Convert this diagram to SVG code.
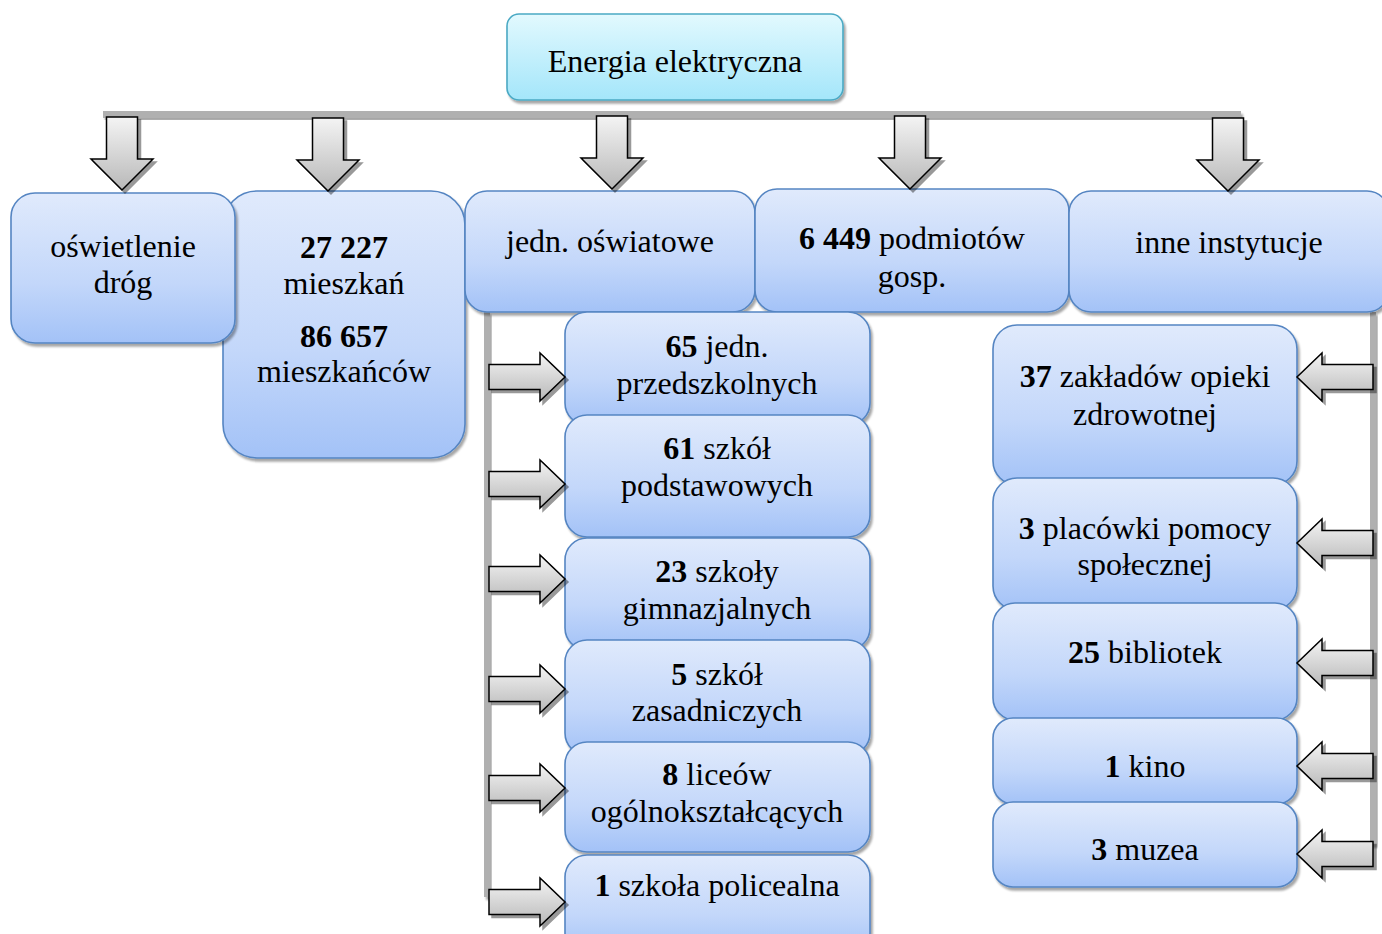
<svg xmlns="http://www.w3.org/2000/svg" width="1382" height="934" viewBox="0 0 1382 934">
<defs>
  <linearGradient id="gBlue" x1="0" y1="0" x2="0" y2="1">
    <stop offset="0" stop-color="#e0eafc"/>
    <stop offset="0.6" stop-color="#c3d7fa"/>
    <stop offset="1" stop-color="#a3c2f7"/>
  </linearGradient>
  <linearGradient id="gCyan" x1="0" y1="0" x2="0" y2="1">
    <stop offset="0" stop-color="#e2f9fe"/>
    <stop offset="1" stop-color="#a4e6fa"/>
  </linearGradient>
  <linearGradient id="gArrow" x1="0" y1="0" x2="0" y2="1">
    <stop offset="0" stop-color="#f4f4f4"/>
    <stop offset="1" stop-color="#b8b8b8"/>
  </linearGradient>
  <filter id="sh" x="-10%" y="-10%" width="130%" height="130%">
    <feDropShadow dx="2" dy="3" stdDeviation="1" flood-color="#000" flood-opacity="0.35"/>
  </filter>
  <filter id="shA" x="-20%" y="-20%" width="150%" height="150%">
    <feDropShadow dx="3" dy="3" stdDeviation="0.6" flood-color="#000" flood-opacity="0.4"/>
  </filter>
  <path id="aDown" d="M-15.5,0 h31 v42 h15.5 l-31,31 l-31,-31 h15.5 z"/>
  <path id="aRight" d="M0,-12.5 h51 v-11.5 l25,24 l-25,24 v-11.5 h-51 z"/>
  <path id="aLeft" d="M0,-12.5 h-51 v-11.5 l-25,24 l25,24 v-11.5 h51 z"/>
  <style>
    .box { fill: url(#gBlue); stroke: #5585c2; stroke-width: 1.6; filter: url(#sh); }
    .top { fill: url(#gCyan); stroke: #4aa9c4; stroke-width: 1.6; filter: url(#sh); }
    .bar { fill: #b0b0b0; filter: url(#sh); }
    .arr { fill: url(#gArrow); stroke: #000; stroke-width: 1.5; stroke-linejoin: miter; filter: url(#shA); }
    text { font-family: "Liberation Serif", "Times New Roman", serif; font-size: 32px; fill: #000; text-anchor: middle; }
    .b { font-weight: bold; }
  </style>
</defs>

<g id="connectors-bars">
  <rect class="bar" x="103" y="111" width="1138" height="7"/>
  <rect class="bar" x="484" y="312" width="6" height="585"/>
  <rect class="bar" x="1370" y="312" width="6" height="533"/>
</g>

<g id="node-top">
  <rect class="top" x="507" y="14" width="336" height="86" rx="12"/>
  <text x="675" y="72">Energia elektryczna</text>
</g>

<g id="node-mieszkania">
  <rect class="box" x="223" y="191" width="242" height="267" rx="34"/>
  <text x="344" y="258" class="b">27 227</text>
  <text x="344" y="294">mieszkań</text>
  <text x="344" y="347" class="b">86 657</text>
  <text x="344" y="382">mieszkańców</text>
</g>
<g id="node-oswietlenie">
  <rect class="box" x="11" y="193" width="224" height="150" rx="24"/>
  <text x="123" y="257">oświetlenie</text>
  <text x="123" y="293">dróg</text>
</g>
<g id="node-oswiatowe">
  <rect class="box" x="465" y="191" width="290" height="121" rx="22"/>
  <text x="610" y="252">jedn. oświatowe</text>
</g>
<g id="node-podmioty">
  <rect class="box" x="755" y="189" width="314" height="123" rx="22"/>
  <text x="912" y="249"><tspan class="b">6 449</tspan> podmiotów</text>
  <text x="912" y="287">gosp.</text>
</g>
<g id="node-inne">
  <rect class="box" x="1069" y="191" width="320" height="121" rx="22"/>
  <text x="1229" y="253">inne instytucje</text>
</g>

<g id="node-przedszkola">
  <rect class="box" x="565" y="312" width="305" height="113" rx="22"/>
  <text x="717" y="357"><tspan class="b">65</tspan> jedn.</text>
  <text x="717" y="394">przedszkolnych</text>
</g>
<g id="node-podstawowe">
  <rect class="box" x="565" y="415" width="305" height="122" rx="22"/>
  <text x="717" y="459"><tspan class="b">61</tspan> szkół</text>
  <text x="717" y="496">podstawowych</text>
</g>
<g id="node-gimnazja">
  <rect class="box" x="565" y="538" width="305" height="112" rx="22"/>
  <text x="717" y="582"><tspan class="b">23</tspan> szkoły</text>
  <text x="717" y="619">gimnazjalnych</text>
</g>
<g id="node-zasadnicze">
  <rect class="box" x="565" y="640" width="305" height="115" rx="22"/>
  <text x="717" y="685"><tspan class="b">5</tspan> szkół</text>
  <text x="717" y="721">zasadniczych</text>
</g>
<g id="node-licea">
  <rect class="box" x="565" y="742" width="305" height="110" rx="22"/>
  <text x="717" y="785"><tspan class="b">8</tspan> liceów</text>
  <text x="717" y="822">ogólnokształcących</text>
</g>
<g id="node-policealna">
  <rect class="box" x="565" y="855" width="305" height="100" rx="22"/>
  <text x="717" y="896"><tspan class="b">1</tspan> szkoła policealna</text>
</g>

<g id="node-zoz">
  <rect class="box" x="993" y="325" width="304" height="160" rx="24"/>
  <text x="1145" y="387"><tspan class="b">37</tspan> zakładów opieki</text>
  <text x="1145" y="425">zdrowotnej</text>
</g>
<g id="node-pomoc">
  <rect class="box" x="993" y="478" width="304" height="132" rx="24"/>
  <text x="1145" y="539"><tspan class="b">3</tspan> placówki pomocy</text>
  <text x="1145" y="575">społecznej</text>
</g>
<g id="node-biblioteki">
  <rect class="box" x="993" y="603" width="304" height="117" rx="22"/>
  <text x="1145" y="663"><tspan class="b">25</tspan> bibliotek</text>
</g>
<g id="node-kino">
  <rect class="box" x="993" y="718" width="304" height="86" rx="20"/>
  <text x="1145" y="777"><tspan class="b">1</tspan> kino</text>
</g>
<g id="node-muzea">
  <rect class="box" x="993" y="802" width="304" height="85" rx="20"/>
  <text x="1145" y="860"><tspan class="b">3</tspan> muzea</text>
</g>

<g id="connectors-arrows">
  <use href="#aDown" class="arr" transform="translate(122,117)"/>
  <use href="#aDown" class="arr" transform="translate(328,118)"/>
  <use href="#aDown" class="arr" transform="translate(612,116)"/>
  <use href="#aDown" class="arr" transform="translate(910,116)"/>
  <use href="#aDown" class="arr" transform="translate(1228,118)"/>

  <use href="#aRight" class="arr" transform="translate(489,377)"/>
  <use href="#aRight" class="arr" transform="translate(489,484)"/>
  <use href="#aRight" class="arr" transform="translate(489,579)"/>
  <use href="#aRight" class="arr" transform="translate(489,689)"/>
  <use href="#aRight" class="arr" transform="translate(489,788)"/>
  <use href="#aRight" class="arr" transform="translate(489,902)"/>

  <use href="#aLeft" class="arr" transform="translate(1373,377)"/>
  <use href="#aLeft" class="arr" transform="translate(1373,543)"/>
  <use href="#aLeft" class="arr" transform="translate(1373,663)"/>
  <use href="#aLeft" class="arr" transform="translate(1373,766)"/>
  <use href="#aLeft" class="arr" transform="translate(1373,854)"/>
</g>
</svg>
